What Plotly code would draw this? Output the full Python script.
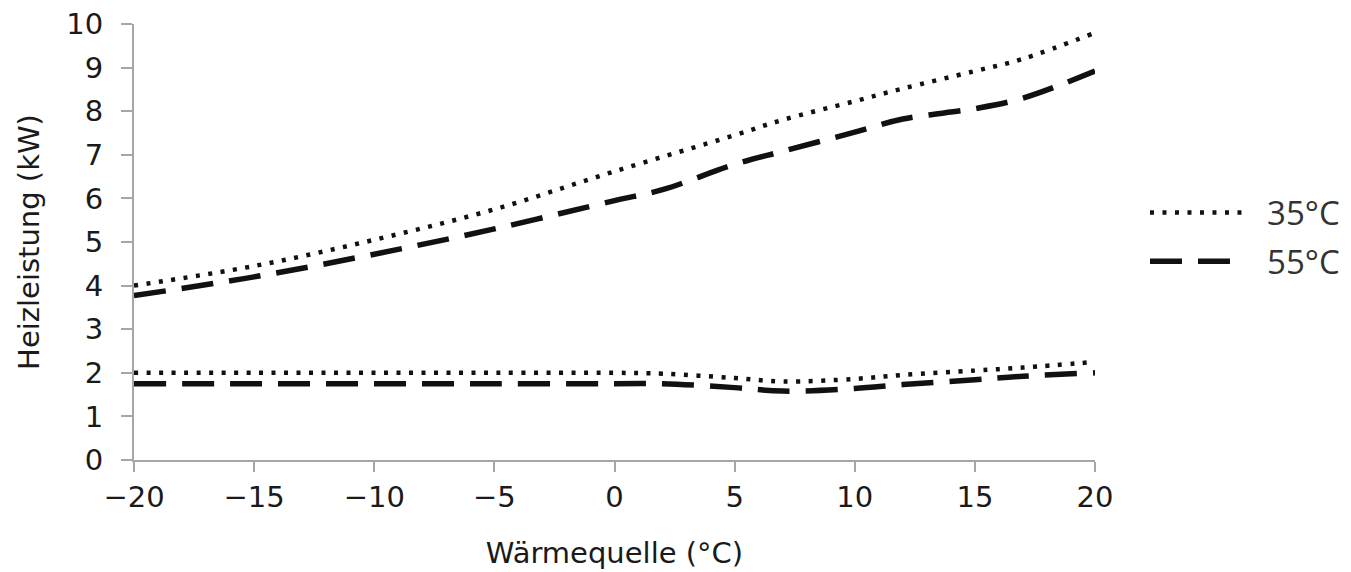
import plotly.graph_objects as go

# Data
x_max35 = [-20, -15, -10, -5, 0, 5, 7, 10, 12, 15, 17, 20]
y_max35 = [4.0, 4.45, 5.05, 5.75, 6.62, 7.45, 7.8, 8.23, 8.52, 8.92, 9.2, 9.8]

x_max55 = [-20, -15, -10, -5, 0, 2, 5, 7, 10, 12, 15, 17, 20]
y_max55 = [3.77, 4.2, 4.72, 5.3, 5.95, 6.2, 6.78, 7.08, 7.52, 7.82, 8.06, 8.3, 8.92]

x_min35 = [-20, -15, -10, -5, 0, 2, 5, 7, 10, 12, 15, 17, 20]
y_min35 = [2.0, 2.0, 2.0, 2.0, 2.0, 1.98, 1.88, 1.8, 1.86, 1.95, 2.05, 2.12, 2.25]

x_min55 = [-20, -15, -10, -5, 0, 2, 5, 7, 10, 12, 15, 17, 20]
y_min55 = [1.75, 1.75, 1.75, 1.75, 1.75, 1.75, 1.66, 1.58, 1.64, 1.73, 1.84, 1.92, 2.0]

x_ticks = [-20, -15, -10, -5, 0, 5, 10, 15, 20]
x_ticklabels = ["\u221220", "\u221215", "\u221210", "\u22125", "0", "5", "10", "15", "20"]
y_ticks = list(range(0, 11))

dot_style = dict(color="#111111", width=4.5, dash="4px,8.5px", shape="spline")
dash_style = dict(color="#111111", width=5.5, dash="32px,16px", shape="spline")

fig = go.Figure()
fig.add_trace(go.Scatter(x=x_max35, y=y_max35, mode="lines", name="\u00a0\u00a035\u00b0C",
                         line=dot_style, legendgroup="35"))
fig.add_trace(go.Scatter(x=x_max55, y=y_max55, mode="lines", name="\u00a0\u00a055\u00b0C",
                         line=dash_style, legendgroup="55"))
fig.add_trace(go.Scatter(x=x_min35, y=y_min35, mode="lines", name="35\u00b0C",
                         line=dot_style, legendgroup="35", showlegend=False))
fig.add_trace(go.Scatter(x=x_min55, y=y_min55, mode="lines", name="55\u00b0C",
                         line=dash_style, legendgroup="55", showlegend=False))

axis_font = dict(family="DejaVu Sans", size=29, color="#1a1a1a")

fig.update_layout(
    width=1351, height=572,
    margin=dict(l=134, r=256, t=24, b=112, autoexpand=False),
    paper_bgcolor="white", plot_bgcolor="white",
    font=axis_font,
    showlegend=True,
    legend=dict(x=1.052, y=0.632, xanchor="left", yanchor="top",
                font=dict(family="Open Sans", size=33, color="#333333"),
                itemwidth=95,
                bgcolor="rgba(0,0,0,0)", tracegroupgap=3),
    xaxis=dict(range=[-20, 20], tickvals=x_ticks, ticktext=x_ticklabels,
               showgrid=False, zeroline=False, showline=True,
               linecolor="#a6a6a6", linewidth=2,
               ticks="outside", ticklen=10, tickwidth=2, tickcolor="#a6a6a6",
               tickfont=axis_font,
               title=dict(text="W\u00e4rmequelle (\u00b0C)", font=axis_font, standoff=30)),
    yaxis=dict(range=[0, 10], tickvals=y_ticks,
               showgrid=False, zeroline=False, showline=True,
               linecolor="#a6a6a6", linewidth=2,
               ticks="outside", ticklen=11, tickwidth=2, tickcolor="#a6a6a6",
               tickfont=axis_font, ticklabelstandoff=12,
               title=dict(text="Heizleistung (kW)", font=axis_font, standoff=18)),
)

fig.write_html("out.html")
